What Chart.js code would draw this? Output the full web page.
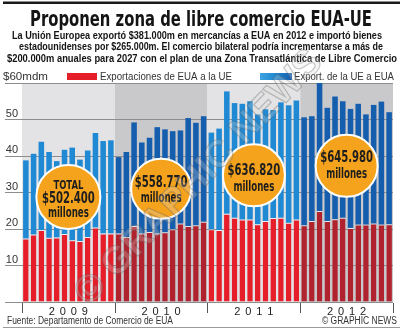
<!DOCTYPE html>
<html>
<head>
<meta charset="utf-8">
<script src="https://cdn.jsdelivr.net/npm/chart.js@4"></script>
<style>
  html, body { margin: 0; padding: 0; background: #fff; }
  #wrap { width: 404px; height: 331px; position: relative; }
</style>
</head>
<body>
<div id="wrap"><canvas id="tradeChart"></canvas></div>
<script>
  // monthly trade, $ billions (mdm)
  const years = ['2009', '2010', '2011', '2012'];
  const months = ['Ene', 'Feb', 'Mar', 'Abr', 'May', 'Jun', 'Jul', 'Ago', 'Sep', 'Oct', 'Nov', 'Dic'];

  const usToEu = [
    17.4, 18.5, 19.7, 17.6, 17.7, 18.6, 16.9, 16.7, 17.8, 20.4, 18.8, 18.8,
    18.8, 17.8, 20.8, 18.8, 19.2, 18.8, 19.1, 19.9, 21.5, 20.8, 21.0, 22.0,
    19.9, 19.7, 24.2, 23.1, 22.6, 22.6, 21.3, 22.2, 23.0, 23.1, 21.7, 22.6,
    21.0, 22.2, 24.9, 22.2, 22.7, 23.1, 20.3, 21.2, 21.2, 21.5, 21.2, 21.3
  ];
  const euToUs = [
    21.4, 22.1, 24.2, 23.5, 20.9, 23.1, 25.4, 22.3, 23.7, 25.9, 25.3, 25.5,
    20.9, 23.3, 28.4, 24.9, 25.8, 29.1, 28.2, 26.9, 25.5, 29.6, 28.1, 28.9,
    26.5, 27.8, 33.5, 31.4, 31.7, 32.4, 30.1, 30.6, 29.6, 31.6, 32.2, 32.6,
    29.6, 28.7, 35.1, 31.0, 33.6, 31.9, 32.6, 33.1, 30.2, 32.5, 33.7, 30.7
  ];
  const yearTotals = ['$502.400', '$558.770', '$636.820', '$645.980'];
  const yTicks = [10, 20, 30, 40, 50];

  const labels = [];
  years.forEach(yr => months.forEach(m => labels.push(m + ' ' + yr)));

  // light / dark shade alternates by year
  const redShades = ['#e61e2a', '#b0232e'];
  const blueShades = ['#1f8ad3', '#155eae'];
  const panelShades = ['#e3e3e5', '#c9c9cc'];
  const shade = (arr) => (c) => arr[Math.floor(c.dataIndex / 12) % 2];

  // squeeze or stretch a line of text to a given width
  function fitText(ctx, txt, x, y, w, align) {
    const m = ctx.measureText(txt).width;
    ctx.save();
    ctx.translate(x, y);
    ctx.scale(w / m, 1);
    ctx.textAlign = align || 'center';
    ctx.fillText(txt, 0, 0);
    ctx.restore();
  }

  const decor = {
    id: 'decor',
    beforeDraw(chart) {
      const { ctx, chartArea: a, scales: { x } } = chart;
      const half = (x.getPixelForValue(1) - x.getPixelForValue(0)) / 2;
      ctx.save();
      years.forEach((yr, i) => {
        const x0 = x.getPixelForValue(i * 12) - half;
        const x1 = x.getPixelForValue(i * 12 + 11) + half;
        ctx.fillStyle = panelShades[i % 2];
        ctx.fillRect(x0, a.top, x1 - x0, a.bottom - a.top);
      });
      ctx.restore();
    },
    afterDatasetsDraw(chart) {
      const { ctx, scales: { x, y } } = chart;
      const badges = [
        { level: 28.8, r: 32, lines: [['TOTAL', -11, 12], [yearTotals[0], 2, 15.5], ['millones', 17, 13.5]] },
        { level: 31.0, r: 30, lines: [[yearTotals[1], -6, 15.5], ['millones', 10, 13.5]] },
        { level: 34.7, r: 31, lines: [[yearTotals[2], -4, 15.5], ['millones', 12, 13.5]] },
        { level: 37.3, r: 31, lines: [[yearTotals[3], -8, 15.5], ['millones', 9, 13.5]] }
      ];
      ctx.save();
      badges.forEach((b, i) => {
        const cx = (x.getPixelForValue(i * 12 + 5) + x.getPixelForValue(i * 12 + 6)) / 2;
        const cy = y.getPixelForValue(b.level);
        ctx.beginPath();
        ctx.arc(cx, cy, b.r, 0, Math.PI * 2);
        ctx.fillStyle = '#f5a31c';
        ctx.fill();
        ctx.lineWidth = 2;
        ctx.strokeStyle = '#ffffff';
        ctx.stroke();
        ctx.fillStyle = '#1e1e1e';
        ctx.textBaseline = 'middle';
        b.lines.forEach(([t, dy, sz]) => {
          ctx.font = '700 ' + sz + 'px "Liberation Sans Narrow", "DejaVu Sans Condensed", Arial, sans-serif';
          const w = t === 'TOTAL' ? 30 : (t === 'millones' ? 41 : 53);
          fitText(ctx, t, cx, cy + dy, w);
        });
      });
      ctx.restore();
    },
    afterDraw(chart) {
      const { ctx, chartArea: a, scales: { x, y } } = chart;
      const half = (x.getPixelForValue(1) - x.getPixelForValue(0)) / 2;
      ctx.save();

      // top rule
      ctx.fillStyle = '#1a1a1a';
      ctx.fillRect(3, 1.5, 397, 2.5);

      // title + standfirst
      ctx.fillStyle = '#141414';
      ctx.textBaseline = 'alphabetic';
      ctx.font = '700 21px "Liberation Sans Narrow", "DejaVu Sans Condensed", Arial, sans-serif';
      fitText(ctx, 'Proponen zona de libre comercio EUA-UE', 201, 25.5, 342);
      ctx.font = '700 11px "Liberation Sans", Arial, sans-serif';
      fitText(ctx, 'La Unión Europea exportó $381.000m en mercancías a EUA en 2012 e importó bienes', 197, 38.5, 370);
      fitText(ctx, 'estadounidenses por $265.000m. El comercio bilateral podría incrementarse a más de', 201, 50, 364);
      fitText(ctx, '$200.000m anuales para 2027 con el plan de una Zona Transatlántica de Libre Comercio', 202, 61.5, 390);

      // unit label + legend row
      ctx.font = '400 11px "Liberation Sans", Arial, sans-serif';
      ctx.fillStyle = '#333';
      const rowY = y.getPixelForValue(60) - 6.5;
      ctx.textBaseline = 'middle';
      fitText(ctx, '$60mdm', 3, rowY, 45, 'left');
      const ds = chart.data.datasets;
      ctx.fillStyle = redShades[0];
      ctx.fillRect(67, rowY - 3.5, 30, 7);
      const g = ctx.createLinearGradient(260, 0, 292, 0);
      g.addColorStop(0, '#3fa3e0');
      g.addColorStop(0.45, blueShades[0]);
      g.addColorStop(1, blueShades[1]);
      ctx.fillStyle = g;
      ctx.fillRect(260, rowY - 3.5, 32, 7);
      ctx.fillStyle = '#333';
      fitText(ctx, ds[0].label, 100, rowY, 132, 'left');
      fitText(ctx, ds[1].label, 294, rowY, 100, 'left');

      // year ticks and labels
      ctx.strokeStyle = '#555';
      ctx.lineWidth = 1;
      for (let k = 0; k <= years.length; k++) {
        const px = Math.round(x.getPixelForValue(k * 12) - half) + 0.5;
        ctx.beginPath();
        ctx.moveTo(px, a.bottom + 1);
        ctx.lineTo(px, a.bottom + 11);
        ctx.stroke();
      }
      ctx.fillStyle = '#222';
      ctx.font = '400 11px "Liberation Sans", Arial, sans-serif';
      ctx.textAlign = 'center';
      years.forEach((yr, i) => {
        const cx = (x.getPixelForValue(i * 12 + 5) + x.getPixelForValue(i * 12 + 6)) / 2;
        yr.split('').forEach((ch, k) => ctx.fillText(ch, cx + (k - 1.5) * 11, a.bottom + 10));
      });

      // footer
      ctx.fillStyle = '#333';
      ctx.font = '400 10px "Liberation Sans", Arial, sans-serif';
      fitText(ctx, 'Fuente: Departamento de Comercio de EUA', 7, 321.5, 166, 'left');
      fitText(ctx, '© GRAPHIC NEWS', 397, 321.5, 75, 'right');
      ctx.fillStyle = '#9a9a9a';
      ctx.fillRect(3, 327, 397, 1);

      // diagonal watermark
      ctx.translate(199, 178);
      ctx.rotate(-46 * Math.PI / 180);
      ctx.font = '700 38px "Liberation Sans", Arial, sans-serif';
      ctx.textAlign = 'center';
      ctx.textBaseline = 'middle';
      ctx.fillStyle = 'rgba(220,220,220,0.25)';
      ctx.fillText('© GRAPHIC NEWS', 0, 0);
      ctx.strokeStyle = 'rgba(90,90,90,0.32)';
      ctx.lineWidth = 1.2;
      ctx.strokeText('© GRAPHIC NEWS', 0, 0);
      ctx.restore();
    }
  };

  new Chart(document.getElementById('tradeChart'), {
    type: 'bar',
    data: {
      labels: labels,
      datasets: [{
        label: 'Exportaciones de EUA a la UE',
        data: usToEu,
        backgroundColor: shade(redShades),
        borderColor: 'rgba(255,255,255,0.55)',
        borderWidth: { top: 1, left: 0, right: 0, bottom: 0 },
        barPercentage: 0.72,
        categoryPercentage: 1.0
      }, {
        label: 'Export. de la UE a EUA',
        data: euToUs,
        backgroundColor: shade(blueShades),
        borderWidth: 0,
        barPercentage: 0.72,
        categoryPercentage: 1.0
      }]
    },
    options: {
      responsive: true,
      maintainAspectRatio: false,
      animation: false,
      layout: { padding: { top: 83, right: 11, bottom: 29, left: 0 } },
      scales: {
        x: { stacked: true, display: false },
        y: {
          stacked: true,
          min: 0,
          max: 60,
          afterFit(s) { s.width = 22; },
          afterBuildTicks(s) { s.ticks = [0].concat(yTicks, [60]).map(v => ({ value: v })); },
          ticks: {
            padding: -13,
            labelOffset: -6,
            color: '#333',
            font: { size: 11, family: '"Liberation Sans", Arial, sans-serif' },
            callback: v => (yTicks.includes(v) ? v : '')
          },
          grid: { color: '#8d8d8d', lineWidth: 1, tickLength: 17, drawTicks: true },
          border: { display: false }
        }
      },
      plugins: {
        legend: { display: false },
        tooltip: { enabled: false }
      }
    },
    plugins: [decor]
  });
</script>
</body>
</html>
